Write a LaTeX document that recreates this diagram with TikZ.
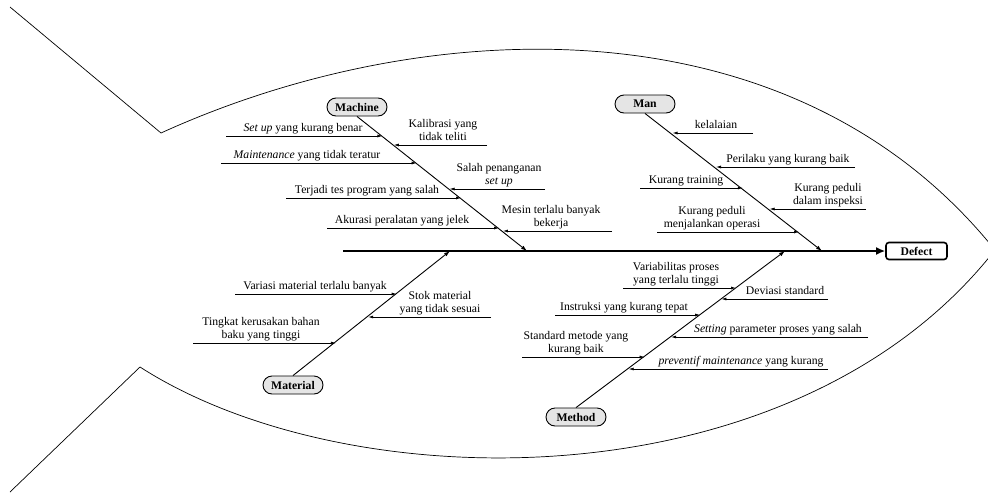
\documentclass[tikz,border=0pt]{standalone}
\usepackage{fontspec}
\setmainfont{Liberation Serif}
\usetikzlibrary{arrows.meta}
\newcommand\fishfont{\fontsize{11.7}{13.5}\selectfont}

\begin{document}
\begin{tikzpicture}[x=1pt,y=-1pt,
        fish/.style={line width=0.7pt},
        spine/.style={line width=2.8pt,-{Latex[length=9pt,width=8pt]}},
        bone/.style={line width=0.9pt,-{Latex[length=6pt,width=4pt]}},
        cause/.style={line width=0.7pt,-{Latex[length=5pt,width=3pt]}},
        cat/.style={draw,line width=0.9pt,fill=gray!20,rounded corners=9pt,minimum width=60pt,minimum height=18pt,inner sep=0pt,font=\fishfont\bfseries},
        effect/.style={draw,line width=1.6pt,fill=white,rounded corners=3pt,minimum width=61pt,minimum height=17pt,inner sep=0pt,font=\fishfont\bfseries},
        lbl/.style={above,inner sep=0pt,align=center,font=\fishfont,execute at end node=\strut}]
        \useasboundingbox (0,0) rectangle (988,493);
        \clip (0,0) rectangle (988,493);

        \draw[fish] (10,7) -- (161,133) .. controls (420,15) and (790,-5) .. (995,250)
            .. controls (795,505) and (350,502) .. (140,367) -- (10,492);

        \node[effect] (defect) at (916.5,251) {Defect};
        \coordinate (head) at (343,251);
        \draw[spine] (head) -- (defect.west);

        \node[cat] (machine) at (357,107) {Machine};
        \coordinate (machine-end) at (527,251);
        \draw[bone] (machine.south) -- (machine-end);

        \node[cat] (man) at (645,104) {Man};
        \coordinate (man-end) at (822,251);
        \draw[bone] (man.south) -- (man-end);

        \node[cat] (material) at (293,385) {Material};
        \coordinate (material-end) at (450,251);
        \draw[bone] (material.north) -- (material-end);

        \node[cat] (method) at (576,417) {Method};
        \coordinate (method-end) at (785,251);
        \draw[bone] (method.north) -- (method-end);

        \coordinate (ms1-a) at (226,136);
        \coordinate (ms1-b) at (382.4,136);
        \draw[cause] (ms1-a) -- (ms1-b);
        \node[lbl] (ms1) at (303,136) {\textit{Set up} yang kurang benar};

        \coordinate (ms2-a) at (487,145);
        \coordinate (ms2-b) at (393.8,145);
        \draw[cause] (ms2-a) -- (ms2-b);
        \node[lbl] (ms2) at (443,145) {Kalibrasi yang\\tidak teliti};

        \coordinate (ms3-a) at (221,163);
        \coordinate (ms3-b) at (416.6,163);
        \draw[cause] (ms3-a) -- (ms3-b);
        \node[lbl] (ms3) at (307,163) {\textit{Maintenance} yang tidak teratur};

        \coordinate (ms4-a) at (545,189);
        \coordinate (ms4-b) at (449.6,189);
        \draw[cause] (ms4-a) -- (ms4-b);
        \node[lbl] (ms4) at (499,189) {Salah penanganan\\\textit{set up}};

        \coordinate (ms5-a) at (286,198);
        \coordinate (ms5-b) at (461,198);
        \draw[cause] (ms5-a) -- (ms5-b);
        \node[lbl] (ms5) at (367,198) {Terjadi tes program yang salah};

        \coordinate (ms6-a) at (612,231);
        \coordinate (ms6-b) at (502.9,231);
        \draw[cause] (ms6-a) -- (ms6-b);
        \node[lbl] (ms6) at (551,231) {Mesin terlalu banyak\\bekerja};

        \coordinate (ms7-a) at (327,228);
        \coordinate (ms7-b) at (499.1,228);
        \draw[cause] (ms7-a) -- (ms7-b);
        \node[lbl] (ms7) at (402,228) {Akurasi peralatan yang jelek};

        \coordinate (mn1-a) at (753,133);
        \coordinate (mn1-b) at (672.5,133);
        \draw[cause] (mn1-a) -- (mn1-b);
        \node[lbl] (mn1) at (716,133) {kelalaian};

        \coordinate (mn2-a) at (855,167);
        \coordinate (mn2-b) at (716,167);
        \draw[cause] (mn2-a) -- (mn2-b);
        \node[lbl] (mn2) at (788,167) {Perilaku yang kurang baik};

        \coordinate (mn3-a) at (640,188);
        \coordinate (mn3-b) at (742.8,188);
        \draw[cause] (mn3-a) -- (mn3-b);
        \node[lbl] (mn3) at (686,188) {Kurang training};

        \coordinate (mn4-a) at (866,209);
        \coordinate (mn4-b) at (769.6,209);
        \draw[cause] (mn4-a) -- (mn4-b);
        \node[lbl] (mn4) at (828,209) {Kurang peduli\\dalam inspeksi};

        \coordinate (mn5-a) at (657,232);
        \coordinate (mn5-b) at (799,232);
        \draw[cause] (mn5-a) -- (mn5-b);
        \node[lbl] (mn5) at (712,232) {Kurang peduli\\menjalankan operasi};

        \coordinate (mt1-a) at (235,294);
        \coordinate (mt1-b) at (396.7,294);
        \draw[cause] (mt1-a) -- (mt1-b);
        \node[lbl] (mt1) at (315,294) {Variasi material terlalu banyak};

        \coordinate (mt2-a) at (491,317);
        \coordinate (mt2-b) at (368.2,317);
        \draw[cause] (mt2-a) -- (mt2-b);
        \node[lbl] (mt2) at (440,317) {Stok material\\yang tidak sesuai};

        \coordinate (mt3-a) at (193,343);
        \coordinate (mt3-b) at (335.9,343);
        \draw[cause] (mt3-a) -- (mt3-b);
        \node[lbl] (mt3) at (261,343) {Tingkat kerusakan bahan\\baku yang tinggi};

        \coordinate (md1-a) at (623,288);
        \coordinate (md1-b) at (736,288);
        \draw[cause] (md1-a) -- (md1-b);
        \node[lbl] (md1) at (676,288) {Variabilitas proses\\yang terlalu tinggi};

        \coordinate (md2-a) at (828,299);
        \coordinate (md2-b) at (721.4,299);
        \draw[cause] (md2-a) -- (md2-b);
        \node[lbl] (md2) at (785,299) {Deviasi standard};

        \coordinate (md3-a) at (555,315);
        \coordinate (md3-b) at (700.2,315);
        \draw[cause] (md3-a) -- (md3-b);
        \node[lbl] (md3) at (624,315) {Instruksi yang kurang tepat};

        \coordinate (md4-a) at (868,337);
        \coordinate (md4-b) at (671.1,337);
        \draw[cause] (md4-a) -- (md4-b);
        \node[lbl] (md4) at (778,337) {\textit{Setting} parameter proses yang salah};

        \coordinate (md5-a) at (522,357);
        \coordinate (md5-b) at (644.6,357);
        \draw[cause] (md5-a) -- (md5-b);
        \node[lbl] (md5) at (576,357) {Standard metode yang\\kurang baik};

        \coordinate (md6-a) at (828,369);
        \coordinate (md6-b) at (628.7,369);
        \draw[cause] (md6-a) -- (md6-b);
        \node[lbl] (md6) at (741,369) {\textit{preventif maintenance} yang kurang};

\end{tikzpicture}
\end{document}
